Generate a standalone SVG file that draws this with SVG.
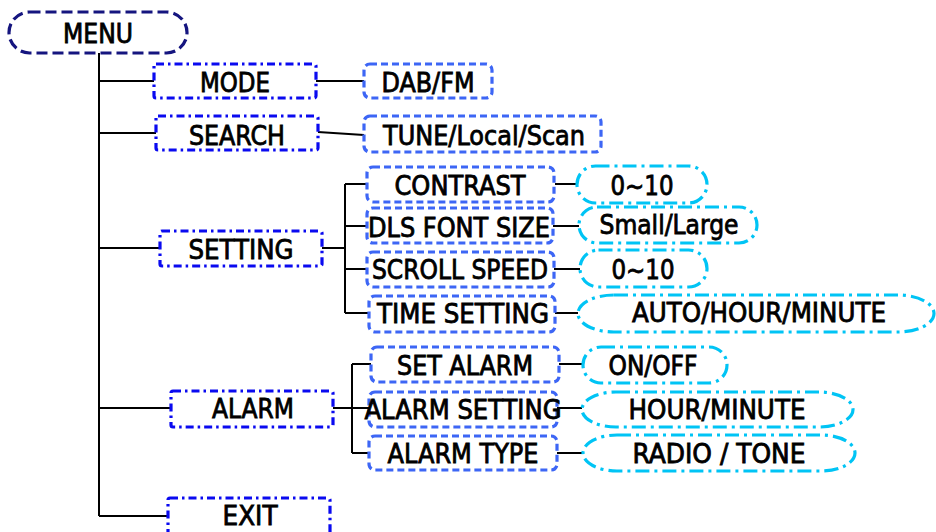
<svg xmlns="http://www.w3.org/2000/svg" width="936" height="532" viewBox="0 0 936 532">
<style>
.t{font-family:'DejaVu Sans Condensed','DejaVu Sans',sans-serif;font-size:27px;fill:#000;stroke:#000;stroke-width:0.8;text-anchor:middle}
.root{fill:none;stroke:#15157f;stroke-width:3.2;stroke-dasharray:11 5}
.l1{fill:none;stroke:#0a0af0;stroke-width:3.2;stroke-dasharray:8 4 2.5 4}
.l2{fill:none;stroke:#3d66f5;stroke-width:3.2;stroke-dasharray:7 4}
.l3{fill:none;stroke:#00c4f5;stroke-width:3.2;stroke-dasharray:14 5 3 5}
.c{fill:none;stroke:#000;stroke-width:2}
</style>
<rect width="936" height="532" fill="#fff"/>
<g id="connectors">
<path class="c" d="M99 53V516M99 81H154M99 133H156M99 248H160M99 408H171M99 516H168"/>
<path class="c" d="M316 81H364M318 132L364 135"/>
<path class="c" d="M322 248H345M345 184V313M345 184H367M345 226H367M345 269H367M345 313H369"/>
<path class="c" d="M555 184H578M553 226H579M554 269H580M555 313H578"/>
<path class="c" d="M333 408H352M352 364V453M352 364H371M352 408H369M352 453H369"/>
<path class="c" d="M559 364H583M557 408H582M557 453H583"/>
</g>
<g id="menu"><rect class="root" x="9" y="12" width="178" height="41" rx="20.5"/><text class="t" x="98" y="43" textLength="70" lengthAdjust="spacingAndGlyphs">MENU</text></g>
<g id="mode"><rect class="l1" x="154" y="64" width="162" height="34" rx="2"/><text class="t" x="235" y="92" textLength="70" lengthAdjust="spacingAndGlyphs">MODE</text></g>
<g id="search"><rect class="l1" x="156" y="116" width="162" height="34" rx="2"/><text class="t" x="237" y="145" textLength="96" lengthAdjust="spacingAndGlyphs">SEARCH</text></g>
<g id="setting"><rect class="l1" x="160" y="231" width="162" height="35" rx="2"/><text class="t" x="241" y="259" textLength="105" lengthAdjust="spacingAndGlyphs">SETTING</text></g>
<g id="alarm"><rect class="l1" x="171" y="391" width="162" height="36" rx="2"/><text class="t" x="253" y="418" textLength="82" lengthAdjust="spacingAndGlyphs">ALARM</text></g>
<g id="exit"><rect class="l1" x="168" y="498" width="162" height="36" rx="2"/><text class="t" x="250" y="525" textLength="55" lengthAdjust="spacingAndGlyphs">EXIT</text></g>
<g id="dabfm"><rect class="l2" x="364" y="64" width="128" height="34" rx="6"/><text class="t" x="428" y="92" textLength="93" lengthAdjust="spacingAndGlyphs">DAB/FM</text></g>
<g id="tune"><rect class="l2" x="364" y="116" width="237" height="36" rx="6"/><text class="t" x="484" y="145" textLength="202" lengthAdjust="spacingAndGlyphs">TUNE/Local/Scan</text></g>
<g id="contrast"><rect class="l2" x="367" y="167" width="187" height="35" rx="6"/><text class="t" x="460" y="195" textLength="131" lengthAdjust="spacingAndGlyphs">CONTRAST</text></g>
<g id="dls"><rect class="l2" x="367" y="208" width="186" height="35" rx="6"/><text class="t" x="459" y="237" textLength="182" lengthAdjust="spacingAndGlyphs">DLS FONT SIZE</text></g>
<g id="scroll"><rect class="l2" x="367" y="252" width="187" height="35" rx="6"/><text class="t" x="460" y="279" textLength="176" lengthAdjust="spacingAndGlyphs">SCROLL SPEED</text></g>
<g id="time"><rect class="l2" x="369" y="296" width="186" height="36" rx="6"/><text class="t" x="463" y="323" textLength="172" lengthAdjust="spacingAndGlyphs">TIME SETTING</text></g>
<g id="setalarm"><rect class="l2" x="371" y="347" width="188" height="35" rx="6"/><text class="t" x="465" y="375" textLength="136" lengthAdjust="spacingAndGlyphs">SET ALARM</text></g>
<g id="alarmsetting"><rect class="l2" x="369" y="392" width="188" height="35" rx="6"/><text class="t" x="463" y="419" textLength="197" lengthAdjust="spacingAndGlyphs">ALARM SETTING</text></g>
<g id="alarmtype"><rect class="l2" x="369" y="436" width="188" height="34" rx="6"/><text class="t" x="463" y="463" textLength="151" lengthAdjust="spacingAndGlyphs">ALARM TYPE</text></g>
<g id="contrastval"><rect class="l3" x="577" y="166" width="130" height="37" rx="18.5"/><text class="t" x="642" y="195" textLength="63" lengthAdjust="spacingAndGlyphs">0~10</text></g>
<g id="fontsize"><rect class="l3" x="579" y="207" width="178" height="36" rx="18"/><text class="t" x="669" y="234" textLength="139" lengthAdjust="spacingAndGlyphs">Small/Large</text></g>
<g id="scrollval"><rect class="l3" x="580" y="250" width="127" height="37" rx="18.5"/><text class="t" x="643" y="279" textLength="63" lengthAdjust="spacingAndGlyphs">0~10</text></g>
<g id="timeval"><rect class="l3" x="578" y="295" width="356" height="37" rx="36" ry="18.5"/><text class="t" x="759" y="322" textLength="254" lengthAdjust="spacingAndGlyphs">AUTO/HOUR/MINUTE</text></g>
<g id="onoff"><rect class="l3" x="583" y="347" width="144" height="36" rx="18"/><text class="t" x="653" y="375" textLength="89" lengthAdjust="spacingAndGlyphs">ON/OFF</text></g>
<g id="hourminute"><rect class="l3" x="582" y="392" width="271" height="35" rx="34" ry="17.5"/><text class="t" x="717" y="419" textLength="177" lengthAdjust="spacingAndGlyphs">HOUR/MINUTE</text></g>
<g id="radiotone"><rect class="l3" x="583" y="435" width="272" height="36" rx="34" ry="18"/><text class="t" x="719" y="463" textLength="173" lengthAdjust="spacingAndGlyphs">RADIO / TONE</text></g>
</svg>
